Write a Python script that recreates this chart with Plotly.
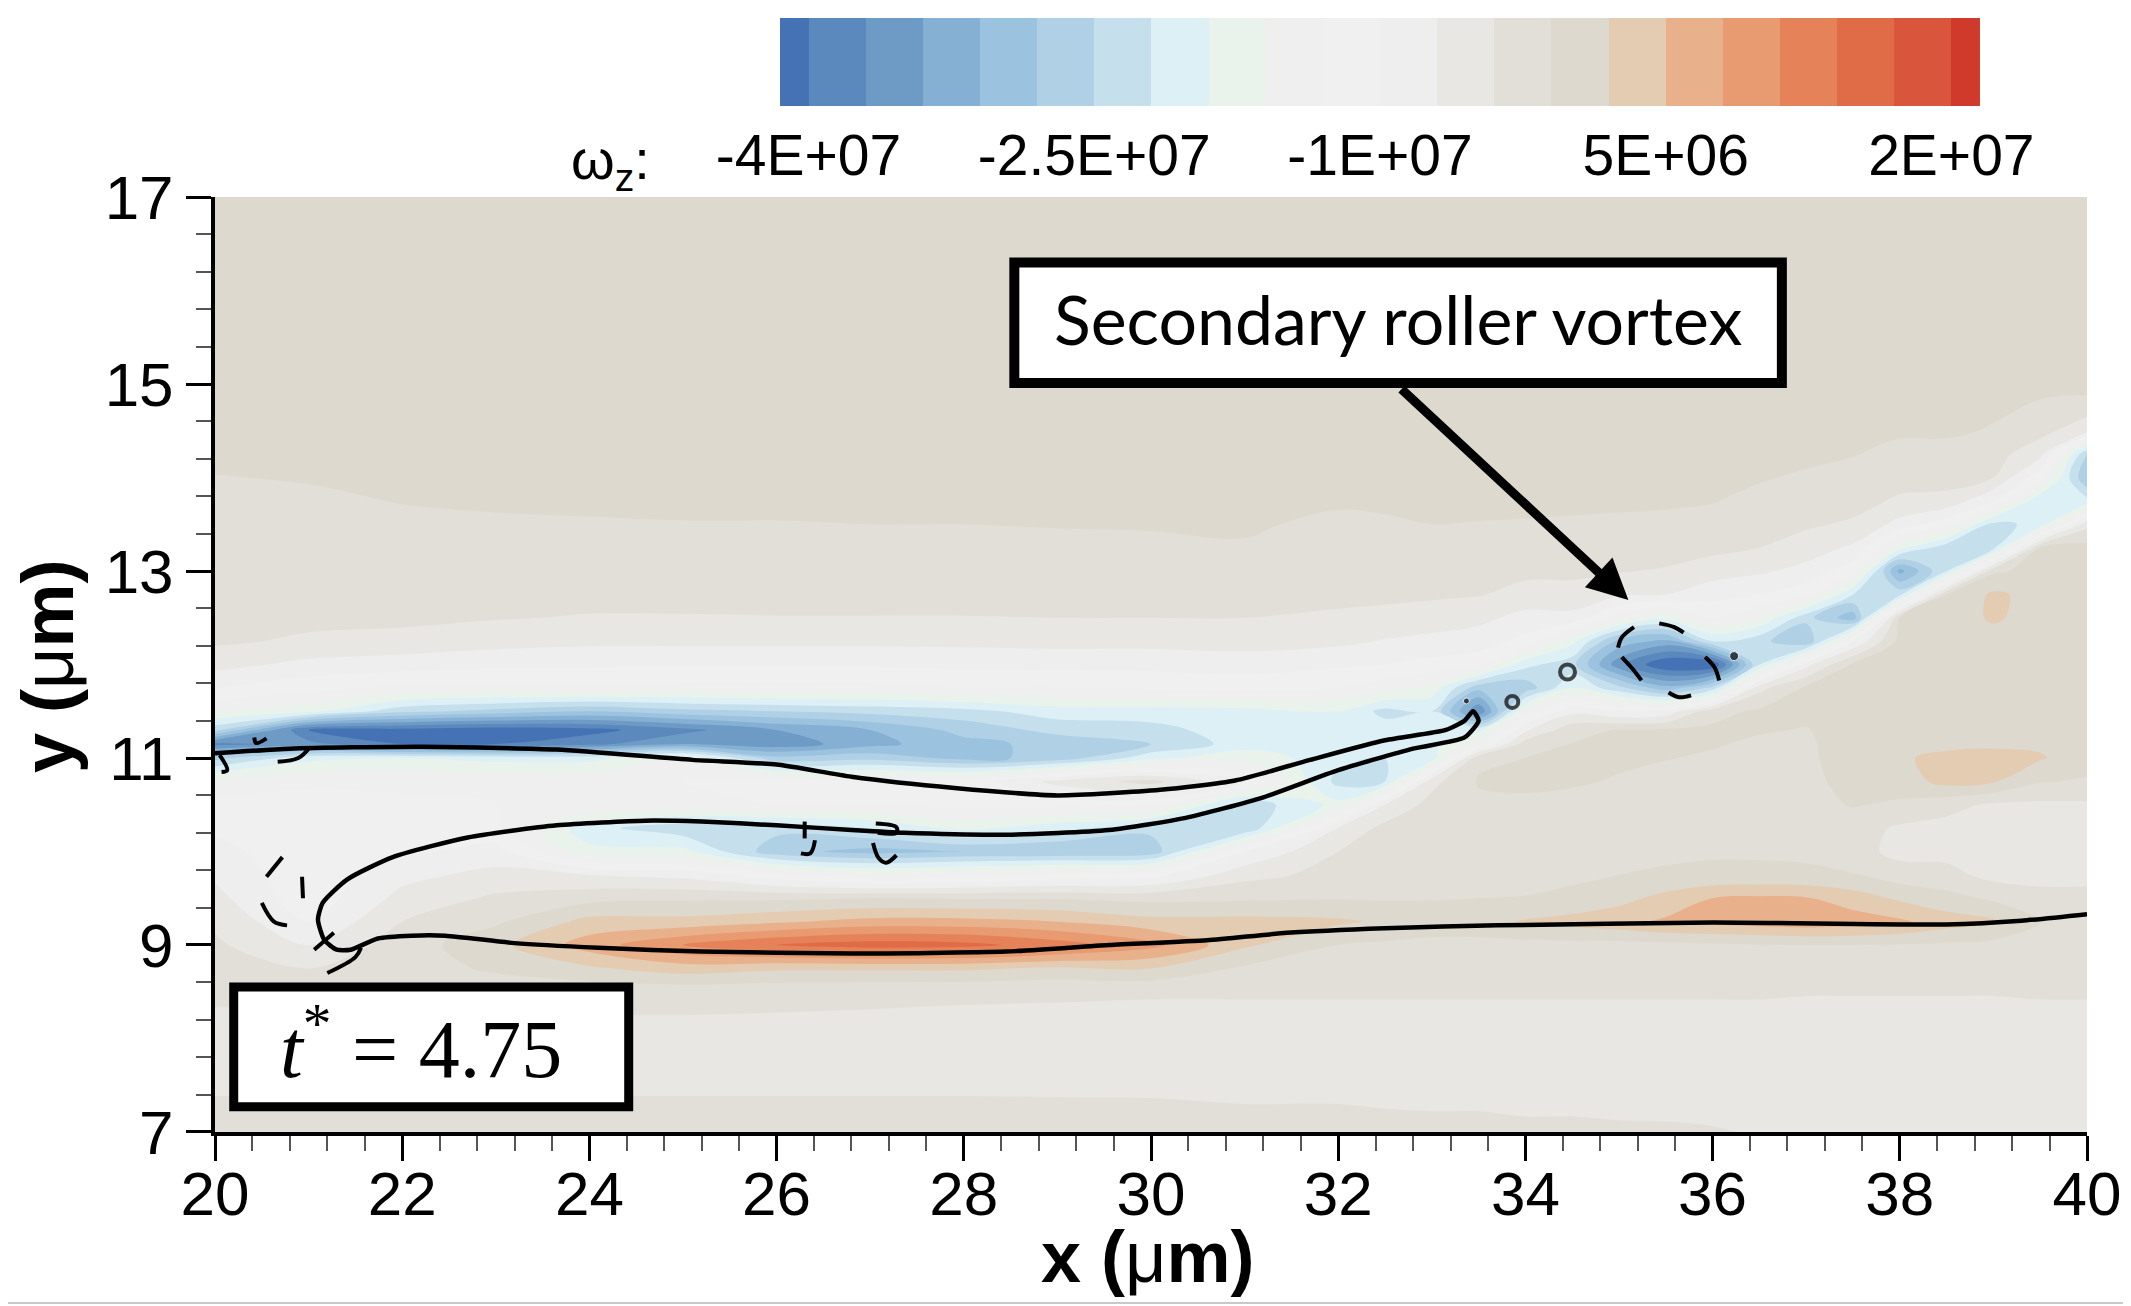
import numpy as np
import plotly.graph_objects as go

# grid nodes of the vorticity field (um)
x_nodes = [20, 21, 22, 23, 24, 25, 26, 27, 28, 29, 30, 31, 32, 32.5, 33, 33.5, 34, 34.5, 35, 35.5, 36, 36.5, 37, 37.5, 38, 38.5, 39, 39.5, 40]
y_nodes = [7, 7.5, 8, 8.5, 8.75, 9, 9.25, 9.5, 9.75, 10, 10.25, 10.5, 10.75, 11, 11.15, 11.3, 11.5, 11.75, 12, 12.25, 12.5, 12.75, 13, 13.25, 13.5, 13.75, 14, 14.25, 14.5, 15, 17]

# omega_z in 1E+06, one list per x node bottom to top
omega_by_x = [
    [-3, -4.3, -5, -3.5, -3, -3.5, -4.5, -6, -7.5, -9, -10.5, -12, -15, -26, -38, -24, -16, -9.7, -6, -3.5, -3, -3, -3, -2.5, -2.5, -2, -1.1, -0.3, 0.5, 1, 1],
    [-3, -4.3, -5, -3.5, -4, -7, -10, -12, -12, -12, -12, -12, -13.5, -20, -36, -40, -18, -12, -7.8, -4.5, -3.2, -3, -3, -2.5, -2.2, -1.5, -0.8, 0, 0.5, 1, 1],
    [-3, -4.3, -5, -3.2, -2.5, -2.5, -4, -6, -8, -10.5, -12, -12.5, -13.5, -19, -40, -41, -24, -13.5, -8.5, -5, -3.3, -3, -3, -2.5, -1.6, -0.9, -0.3, 0, 0.5, 1, 1],
    [-3, -4.3, -5, -3, -0.5, 1, -1.5, -3.5, -6, -9, -12, -13, -14, -20, -40, -42, -26, -14, -9.3, -5.8, -3.8, -3, -3, -2.5, -1.3, -0.7, -0.2, 0.3, 0.8, 1, 1],
    [-3, -4.3, -5, -3, 1.5, 6.5, 3, -2, -7, -18, -21, -13, -14, -20, -38, -41, -28, -13.5, -9.5, -6.3, -4.2, -3, -2.7, -2, -1.2, -0.6, 0, 0.3, 0.8, 1, 1],
    [-3, -4.3, -5, -3, 3.5, 11, 3, -1.5, -8, -18, -24, -14, -13, -16, -34, -38, -26, -14, -9.5, -6.3, -4.2, -3, -2.7, -2, -1.1, -0.5, 0, 0.3, 0.8, 1, 1],
    [-3, -4.3, -5, -3.2, 2.5, 14, 4.5, -1.5, -12, -27, -24, -13, -12, -27, -36, -34, -25, -14, -9.5, -6.3, -4.1, -3, -2.5, -1.9, -1.1, -0.5, 0, 0.3, 0.8, 1, 1],
    [-3, -4.3, -5, -3.4, 2.5, 15.5, 6, -1, -15, -29, -22, -13, -12, -26, -32, -31, -24, -14, -9.5, -6.3, -4.1, -3, -2.3, -1.8, -1, -0.4, 0.1, 0.4, 0.9, 1, 1],
    [-3, -4.3, -5, -3.6, 2.5, 15, 6, -1.2, -14, -28, -18, -12, -12, -29, -29, -27, -23, -13, -9.2, -6.2, -4.1, -3, -2.2, -1.7, -1, -0.3, 0.2, 0.5, 0.9, 1, 1],
    [-3.1, -4.3, -5, -3.7, 1.5, 12.5, 5, -1.2, -12, -28, -21, -12, -6, -27, -27, -24, -20.5, -13, -9, -6, -4, -2.9, -2, -1.5, -0.9, -0.3, 0.3, 0.6, 1, 1, 1],
    [-3.2, -4.3, -5, -3.8, 2, 9, 3, -1.8, -11, -27, -24, -12, -3, -20, -25, -23, -20.5, -12.5, -9, -6, -4, -2.9, -2, -1.5, -0.8, -0.2, 0.3, 0.6, 1, 1, 1],
    [-3.4, -4.4, -5, -3.8, -1.5, 2.5, 3, -1.5, -5, -10, -25, -24, -10, -17, -20.5, -20.5, -20, -12, -8.5, -5.8, -4, -2.6, -1.8, -1.2, -0.7, -0.1, 0.3, 0.6, 1, 1, 1],
    [-3.4, -4.4, -5, -3.8, -2.2, -1, 2.5, -1.2, -3, -4, -6.8, -18, -23, -21, -21, -21, -19, -13, -9.5, -6.3, -4.5, -3.2, -2.2, -1.8, -1.5, -0.7, 0, 0.3, 0.6, 1, 1],
    [-3.5, -4.5, -5, -3.8, -2.6, -1.5, 1.5, -1.3, -2.8, -3, -3, -7, -22, -22, -20, -20.5, -23, -14.5, -10, -7.2, -5, -3.2, -2, -1.5, -1.3, -0.6, 0, 0.3, 0.6, 1, 1],
    [-3.6, -4.5, -5, -3.8, -3, -2, 1, -1.2, -2.5, -3, -2.5, -2.8, -5, -21, -20, -20.5, -22, -17, -11, -7.8, -5.5, -3.5, -2, -1.5, -1, -0.5, 0, 0.3, 0.6, 1, 1],
    [-3.6, -4.5, -5, -3.8, -3.2, -2, 1, -1, -2, -2.5, -2.6, -1.5, -0.8, -1.5, -14, -20, -37, -27, -12, -8.5, -6.2, -3.8, -2.8, -1.8, -1.1, -0.4, 0, 0.3, 0.6, 1, 1],
    [-3.7, -4.6, -5, -3.8, -3.3, -2, 2.3, -0.9, -1.8, -2.2, -2.4, -1.5, -0.5, -1, -2.5, -7.5, -15, -27, -21, -11, -8, -5, -3.3, -2, -1.2, -0.4, 0, 0.3, 0.6, 1, 1],
    [-3.7, -4.6, -5, -3.8, -3.3, -2, 3.2, -0.5, -1.4, -2, -2.3, -1.8, -0.7, -0.5, -0.9, -2, -8, -19, -24, -18, -8, -4.8, -3.5, -2.2, -1.3, -0.5, 0, 0.3, 0.6, 1, 1],
    [-3.8, -4.6, -5, -3.8, -3.3, -2, 4, 1, -1, -1.6, -2, -2, -1.2, -0.6, -0.5, -0.8, -10, -24, -36, -29, -14, -6.5, -3.8, -2.5, -1.4, -0.6, 0, 0.3, 0.6, 1, 1],
    [-3.8, -4.7, -5, -3.8, -3.3, -1.8, 5.5, 3, -0.8, -1.3, -1.9, -2.3, -1.8, -0.9, -0.5, -0.6, -9, -30, -43, -32, -18, -7, -4.3, -2.6, -1.5, -0.7, 0, 0.3, 0.6, 1, 1],
    [-3.9, -4.7, -5, -3.8, -3.3, -1.5, 6, 5, -0.5, -1.3, -2, -2.4, -2, -1.3, -0.8, -0.5, -2, -24, -43, -22, -12.5, -9, -5.5, -3.2, -1.7, -0.9, -0.2, 0.2, 0.6, 1, 1],
    [-4.1, -4.7, -5, -3.8, -3.3, -1.2, 6.5, 5.5, -0.5, -1.3, -2, -2.4, -2.2, -1.8, -1.4, -0.8, -0.5, -5, -22, -24, -16, -10, -6.5, -4, -2.5, -1.6, -0.8, 0, 0.5, 1, 1],
    [-4.4, -4.8, -5, -3.9, -3.3, -1, 7, 5.2, -0.5, -1.5, -2, -2, -1.8, -1.6, -1.4, -1.1, -0.5, -0.5, -8, -28, -24, -12, -8, -5.5, -3.5, -2, -1.3, -0.5, 0.2, 1, 1],
    [-4.4, -4.8, -5, -3.9, -3.3, -1, 6.5, 3.5, -0.8, -2.7, -2.5, -0.8, 0, 0.5, 0.3, 0, 0, 0.3, -0.5, -10, -30, -22, -12, -7.5, -4.5, -2.8, -1.7, -0.9, 0, 0.8, 1],
    [-4.4, -4.8, -5, -3.9, -3.3, -1.2, 5.5, 1.5, -2.5, -5, -4.5, -1.5, 0.5, 1.5, 1, 0.5, 0.3, 0.2, 0, 0, -1, -23, -32, -18, -8, -4.5, -2.8, -1.6, -0.7, 0.5, 1],
    [-4.4, -4.8, -5, -3.9, -3.3, -1.5, 3.5, 0, -3, -5, -5, -3, 3, 3, 1, 0.5, 0.3, 0.2, 0, 0, 0, -1, -22, -24, -12, -4.8, -3, -1.8, -0.6, 0.3, 1],
    [-4.4, -4.8, -5, -3.9, -3.3, -2, 2.5, -1.5, -5, -5.3, -5.3, -4.5, 2.3, 3, 1.5, 0.5, 0.3, 0.2, 0.2, 0.5, 2.5, 2.5, -1.5, -23, -23, -10, -4, -2.8, -1.2, 0, 1],
    [-4.4, -4.8, -5, -3.8, -3, -2.3, -1, -3, -5, -5.5, -5.5, -4.6, -0.8, 2.3, 1.5, 0.5, 0.3, 0.2, 0.2, 0.3, 0.5, 1, 0, -1, -21, -22, -12, -6, -3, 0, 1],
    [-4.4, -4.8, -5, -3.8, -3, -2.5, -2.5, -3.8, -4.2, -5.5, -5.5, -4.5, -1.3, 0.2, 0.2, 0.2, 0.2, 0.2, 0.2, 0.3, 0.5, 0.5, 0, 0, -5, -21, -28, -25, -6, 0.5, 1],
]

# colour of each band of the legend, low to high
band_colors = ["#4472B4", "#5B88BD", "#6E9AC6", "#85B0D4", "#9BC2DE", "#B0D0E5", "#C5E0EC", "#DDF0F5",
               "#EAF2EC", "#EFEFEF", "#F0F0F0", "#EEEEEE", "#E8E7E4", "#E2DFD8", "#DDD9CE", "#E3CCB2",
               "#E8B18C", "#E89A70", "#E6825A", "#DF6B47", "#D9553B", "#CF3A2B"]

# legend strip: band edges and band middles, in 1E+06
band_edges = [-41.5, -40, -37, -34, -31, -28, -25, -22, -19, -16, -13, -10, -7, -4, -1, 2, 5, 8, 11, 14, 17, 20, 21.5]
band_mids = [-41.5, -38.5, -35.5, -32.5, -29.5, -26.5, -23.5, -20.5, -17.5, -14.5, -11.5, -8.5, -5.5, -2.5, 0.5, 3.5, 6.5, 9.5, 12.5, 15.5, 18.5, 21.5]
cbar_ticks = [-40, -25, -10, 5, 20]
cbar_labels = ["-4E+07", "-2.5E+07", "-1E+07", "5E+06", "2E+07"]

# the interface, one curve from the left edge round both tips to the right edge
iface_x = [20, 20.8, 22.2, 23.65, 25.1, 26, 26.8, 27.9, 29, 30.1, 30.9, 31.7, 32.5, 33.15, 33.35, 33.44,
           33.5, 33.35, 32.8, 32, 31.2, 30.37, 29.55, 28.45, 27.36, 26.8, 26, 25.2, 24.6, 23.65, 22.7, 21.9, 21.41, 21.15, 21.1,
           21.17, 21.3, 21.45, 21.74, 22.1, 22.46, 23.2, 24.1, 25.2, 26.8, 28.45, 29.55, 30.6, 31.45, 32.5, 33.7, 36, 38.5, 39.3, 40]
iface_y = [11.05, 11.1, 11.12, 11.09, 10.98, 10.93, 10.8, 10.68, 10.6, 10.66, 10.76, 10.98, 11.19, 11.3, 11.4, 11.5,
           11.4, 11.22, 11.1, 10.87, 10.58, 10.36, 10.23, 10.18, 10.2, 10.23, 10.28, 10.32, 10.33, 10.28, 10.15, 9.94, 9.7, 9.45, 9.27,
           9.05, 8.95, 8.95, 9.07, 9.1, 9.1, 9.02, 8.97, 8.93, 8.91, 8.93, 9, 9.05, 9.13, 9.18, 9.21, 9.24, 9.22, 9.26, 9.33]

# dashed second level, broken where the line breaks
dash_x = [20.72, 20.55, None, 20.93, 20.94, None, 20.5, 20.63, 20.77, None, 21.06, 21.27, None, 21.2, 21.5, 21.56, None,
          20.42, 20.44, 20.55, None, 20.67, 20.89, 21.0, None, 20.05, 20.13, 20.07, None,
          26.3, 26.3, None, 26.41, 26.36, 26.26, None, 27.06, 27.28, 27.28, 27.08, None, 27.03, 27.09, 27.17, 27.28, None,
          35.16, 35.03, 34.99, None, 35.43, 35.59, 35.69, None, 35.03, 35.14, 35.24, None, 35.53, 35.64, 35.77, None, 35.92, 36.02, 36.07]
dash_y = [9.94, 9.73, None, 9.73, 9.5, None, 9.45, 9.25, 9.21, None, 8.95, 9.13, None, 8.7, 8.87, 8.97, None,
          11.22, 11.16, 11.21, None, 10.96, 11.0, 11.1, None, 11.03, 10.87, 10.85, None,
          10.32, 10.14, None, 10.12, 9.98, 9.98, None, 10.3, 10.26, 10.2, 10.2, None, 10.09, 9.93, 9.88, 9.96, None,
          12.4, 12.29, 12.18, None, 12.44, 12.4, 12.34, None, 12.08, 11.96, 11.83, None, 11.7, 11.65, 11.67, None, 12.08, 11.97, 11.83]

ring_x = [34.45, 33.86]
ring_y = [11.92, 11.6]
dot_x = [36.23, 33.37]
dot_y = [12.09, 11.61]

omega = np.array(omega_by_x).T * 1e6
band_scale = [[i / (len(band_colors) - 1), c] for i, c in enumerate(band_colors)]

fig = go.Figure()
fig.add_trace(go.Contour(
    x=x_nodes, y=y_nodes, z=omega,
    contours=dict(start=-4e7, end=2e7, size=3e6, coloring="fill", showlines=False),
    line=dict(width=0, smoothing=1),
    colorscale=band_scale, showscale=False,
    hoverinfo="skip",
))
fig.add_trace(go.Scatter(x=iface_x, y=iface_y, mode="lines", line=dict(color="black", width=4.5, shape="spline", smoothing=0.6), hoverinfo="skip", showlegend=False))
fig.add_trace(go.Scatter(x=dash_x, y=dash_y, mode="lines", line=dict(color="black", width=4, shape="spline"), hoverinfo="skip", showlegend=False))
fig.add_trace(go.Scatter(x=ring_x, y=ring_y, mode="markers", marker=dict(symbol="circle-open", size=[15, 12], color="black", line=dict(width=4, color="black")), hoverinfo="skip", showlegend=False))
fig.add_trace(go.Scatter(x=dot_x, y=dot_y, mode="markers", marker=dict(size=[9, 6], color="black"), hoverinfo="skip", showlegend=False))
# legend strip on its own small axes above the plot
fig.add_trace(go.Heatmap(
    x=band_edges, y=[0, 1], z=[band_mids],
    zmin=band_mids[0], zmax=band_mids[-1], colorscale=band_scale, showscale=False,
    xaxis="x2", yaxis="y2", hoverinfo="skip",
))

axis_font = dict(family="Liberation Sans", size=62, color="black")
title_font = dict(family="Liberation Sans", size=72, color="black")
fig.update_layout(
    width=2123, height=1298, autosize=False,
    margin=dict(l=207, r=44, t=10, b=174, pad=0),
    paper_bgcolor="white", plot_bgcolor="white", showlegend=False,
    xaxis=dict(
        range=[20, 40], dtick=2, tick0=20, showgrid=False, zeroline=False, anchor="y", automargin=False,
        showline=True, linecolor="black", linewidth=4,
        ticks="outside", ticklen=25, tickwidth=3, tickcolor="black", tickfont=axis_font, ticklabelstandoff=-20,
        minor=dict(dtick=0.4, tick0=20, ticks="outside", ticklen=15, tickwidth=2, tickcolor="#555555", showgrid=False),
    ),
    yaxis=dict(
        range=[7, 17], dtick=2, tick0=7, showgrid=False, zeroline=False, anchor="x", domain=[0, 0.8393], automargin=False,
        showline=True, linecolor="black", linewidth=4,
        ticks="outside", ticklen=25, tickwidth=3, tickcolor="black", tickfont=axis_font, ticklabelstandoff=0,
        minor=dict(dtick=0.4, tick0=7, ticks="outside", ticklen=15, tickwidth=2, tickcolor="#555555", showgrid=False),
    ),
    xaxis2=dict(
        domain=[0.3018, 0.9428], anchor="y2", range=[-41.5, 21.5], showgrid=False, zeroline=False, showline=False, automargin=False,
        tickmode="array", tickvals=cbar_ticks, ticktext=cbar_labels, ticks="", side="bottom", ticklabelstandoff=11,
        tickfont=dict(family="Liberation Sans", size=57, color="black"),
    ),
    yaxis2=dict(domain=[0.921, 1], anchor="x2", range=[0, 1], visible=False),
    shapes=[
        dict(type="rect", xref="x", yref="y", x0=28.54, x1=36.74, y0=15.01, y1=16.30, fillcolor="white", line=dict(color="black", width=10), layer="above"),
        dict(type="rect", xref="x", yref="y", x0=20.2, x1=24.42, y0=7.27, y1=8.55, fillcolor="white", line=dict(color="black", width=9), layer="above"),
        dict(type="line", xref="paper", yref="paper", x0=-0.115, x1=1.0235, y0=-0.1535, y1=-0.1535, line=dict(color="#C9C9C9", width=2)),
        dict(type="line", xref="paper", yref="paper", x0=1.0219, x1=1.0219, y0=-0.1535, y1=1.016, line=dict(color="#C9C9C9", width=2)),
    ],
    annotations=[
        dict(x=32.64, y=15.7, xref="x", yref="y", text="Secondary roller vortex", showarrow=False, font=dict(family="Lato", size=68, color="black")),
        dict(x=22.2, y=7.95, xref="x", yref="y", text="<i>t</i><sup>*</sup> = 4.75", showarrow=False, font=dict(family="Liberation Serif", size=82, color="black")),
        dict(x=35.1, y=12.69, ax=32.66, ay=14.96, xref="x", yref="y", axref="x", ayref="y", text="", showarrow=True, arrowhead=2, arrowsize=0.9, arrowwidth=9, arrowcolor="black"),
        dict(x=0.189, y=0.8698, xref="paper", yref="paper", xanchor="left", yanchor="middle", text="ω<sub>z</sub>:", showarrow=False, font=dict(family="Liberation Sans", size=56, color="black")),
        # axis titles
        dict(x=0.4984, y=-0.1122, xref="paper", yref="paper", xanchor="center", yanchor="middle", text="<b>x (</b>μ<b>m)</b>", showarrow=False, font=title_font),
        dict(x=-0.0892, y=0.4183, xref="paper", yref="paper", xanchor="center", yanchor="middle", textangle=-90, text="<b>y (</b>μ<b>m)</b>", showarrow=False, font=title_font),
    ],
)

fig.write_html("out.html")
